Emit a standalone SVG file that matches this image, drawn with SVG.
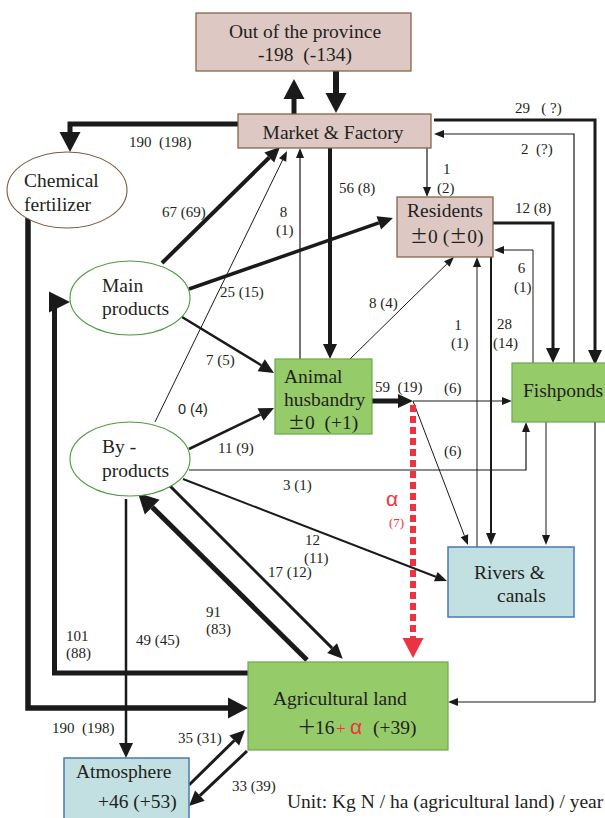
<svg xmlns="http://www.w3.org/2000/svg" width="605" height="818" viewBox="0 0 605 818">
<style>
.t{font-family:"Liberation Serif","Times New Roman",serif;font-size:19.5px;fill:#231f20}
.l{font-family:"Liberation Serif","Times New Roman",serif;font-size:15px;fill:#231f20}
.ls{font-family:"Liberation Sans",Arial,sans-serif;font-size:14.5px;fill:#231f20}
.pm{font-family:"Noto Sans CJK JP","Liberation Serif",sans-serif}
.pink{fill:#ddc8c4;stroke:#7d5a3e;stroke-width:1.2}
.green{fill:#96cb69;stroke:#6aa84f;stroke-width:1.2}
.blue{fill:#c2dfe1;stroke:#4a7ab0;stroke-width:1.5}
.ell{fill:#fff;stroke:#4c9a3c;stroke-width:1.1}
.c{fill:none;stroke:#1a1a1a;stroke-linejoin:miter}
.red{fill:#ee3340}
</style>
<defs>
<marker id="big" markerUnits="userSpaceOnUse" markerWidth="20" markerHeight="21" refX="0" refY="10.5" orient="auto" overflow="visible"><path d="M0,0 L20,10.5 L0,21 z" fill="#1a1a1a"/></marker>
<marker id="med" markerUnits="userSpaceOnUse" markerWidth="15" markerHeight="14" refX="0" refY="7" orient="auto" overflow="visible"><path d="M0,0 L15,7 L0,14 z" fill="#1a1a1a"/></marker>
<marker id="mid" markerUnits="userSpaceOnUse" markerWidth="12" markerHeight="10" refX="0" refY="5" orient="auto" overflow="visible"><path d="M0,0 L12,5 L0,10 z" fill="#1a1a1a"/></marker>
<marker id="sm" markerUnits="userSpaceOnUse" markerWidth="10" markerHeight="8" refX="0" refY="4" orient="auto" overflow="visible"><path d="M0,0 L10,4 L0,8 z" fill="#1a1a1a"/></marker>
</defs>

<g id="connectors">
<path class="c" d="M294,114 V99" stroke-width="5" marker-end="url(#big)"/>
<path class="c" d="M336,71 V93" stroke-width="6" marker-end="url(#big)"/>
<path class="c" d="M238,124 H70 V132" stroke-width="5" marker-end="url(#big)"/>
<path class="c" d="M28,218 V708 H228" stroke-width="5.5" marker-end="url(#big)"/>
<path class="c" d="M248,673 H54.5 V302" stroke-width="5"/>
<polygon points="49,291.5 70,302 49,312.5" fill="#1a1a1a"/>
<path class="c" d="M307,660 L152.2,507.1" stroke-width="5" marker-end="url(#big)"/>
<path class="c" d="M169,485 L332.1,648.1" stroke-width="3" marker-end="url(#med)"/>
<path class="c" d="M162,263 L269.3,157.5" stroke-width="4" marker-end="url(#med)"/>
<path class="c" d="M155,422 L282.6,160" stroke-width="1" marker-end="url(#sm)"/>
<path class="c" d="M300,359 V158" stroke="#8a8a8a" stroke-width="1.2" marker-end="url(#sm)"/>
<path class="c" d="M330,148 V344" stroke-width="4" marker-end="url(#med)"/>
<path class="c" d="M427,148 V187" stroke-width="1.2" marker-end="url(#sm)"/>
<path class="c" d="M189,289 L378.8,222.9" stroke-width="3.5" marker-end="url(#med)"/>
<path class="c" d="M434,120 H595 V350" stroke-width="3" marker-end="url(#med)"/>
<path class="c" d="M574,363 V134 H444" stroke="#444" stroke-width="1.2" marker-end="url(#sm)"/>
<path class="c" d="M493,223 H553 V348" stroke-width="3" marker-end="url(#med)"/>
<path class="c" d="M533,363 V250 H504" stroke-width="1" marker-end="url(#sm)"/>
<path class="c" d="M477,547 V267" stroke-width="1" marker-end="url(#sm)"/>
<path class="c" d="M491,257 V533" stroke-width="2" marker-end="url(#mid)"/>
<path class="c" d="M350,359 L446.8,264" stroke-width="1" marker-end="url(#sm)"/>
<path class="c" d="M182,317 L261.2,365.2" stroke-width="2.5" marker-end="url(#med)"/>
<path class="c" d="M189,449 L260.5,414.5" stroke-width="2.5" marker-end="url(#med)"/>
<path class="c" d="M372,401 H398" stroke-width="5" marker-end="url(#med)"/>
<path class="c" d="M413,401 H502" stroke="#444" stroke-width="1" marker-end="url(#sm)"/>
<path class="c" d="M413,401 L464.4,535.7" stroke-width="1" marker-end="url(#sm)"/>
<path d="M413,405 V638" fill="none" stroke="#ee3340" stroke-width="6" stroke-dasharray="7 4"/>
<polygon points="402.5,638 423.5,638 413,658" class="red"/>
<path class="c" d="M189,470 H526 V432" stroke="#666" stroke-width="1.2" marker-end="url(#sm)"/>
<path class="c" d="M183,479 L435.8,576.7" stroke-width="2" marker-end="url(#mid)"/>
<path class="c" d="M126,499 V743" stroke-width="2.5" marker-end="url(#med)"/>
<path class="c" d="M546,422 V535" stroke-width="1" marker-end="url(#sm)"/>
<path class="c" d="M595,422 V702 H458" stroke="#444" stroke-width="1.2" marker-end="url(#sm)"/>
<path class="c" d="M189,785 L234.3,740.5" stroke-width="3" marker-end="url(#med)"/>
<path class="c" d="M247,751 L199.9,795.7" stroke-width="3" marker-end="url(#med)"/>
</g>

<g id="out-of-province">
<rect x="196" y="13" width="215" height="58" class="pink"/>
<text class="t" x="305" y="38" text-anchor="middle">Out of the province</text>
<text class="t" x="305" y="61" text-anchor="middle">-198&#160; (-134)</text>
</g>
<g id="market-factory">
<rect x="238" y="114" width="193" height="34" class="pink"/>
<text class="t" x="333" y="139" text-anchor="middle">Market &amp; Factory</text>
</g>
<g id="chemical-fertilizer">
<ellipse cx="67" cy="190" rx="60" ry="38" fill="#fff" stroke="#7d5a3e" stroke-width="1.1"/>
<text class="t" x="24" y="187">Chemical</text>
<text class="t" x="24" y="211">fertilizer</text>
</g>
<g id="main-products">
<ellipse cx="130" cy="298" rx="60" ry="37" class="ell"/>
<text class="t" x="102" y="292">Main</text>
<text class="t" x="102" y="315">products</text>
</g>
<g id="by-products">
<ellipse cx="130" cy="459" rx="60" ry="37" class="ell"/>
<text class="t" x="102" y="453">By -</text>
<text class="t" x="102" y="477">products</text>
</g>
<g id="residents">
<rect x="397" y="197" width="96" height="60" class="pink"/>
<text class="t" x="445" y="217" text-anchor="middle">Residents</text>
<text class="t" x="410" y="243"><tspan class="pm" font-size="18">±</tspan>0 (<tspan class="pm" font-size="18">±</tspan>0)</text>
</g>
<g id="animal-husbandry">
<rect x="275" y="359" width="97" height="75" class="green"/>
<text class="t" x="284" y="383">Animal</text>
<text class="t" x="284" y="406">husbandry</text>
<text class="t" x="288" y="429"><tspan class="pm" font-size="17">±</tspan>0&#160; (+1)</text>
</g>
<g id="fishponds">
<rect x="512" y="363" width="96" height="59" class="green"/>
<text class="t" x="523" y="397">Fishponds</text>
</g>
<g id="rivers-canals">
<rect x="448" y="547" width="126" height="70" class="blue"/>
<text class="t" x="474" y="579">Rivers &amp;</text>
<text class="t" x="497" y="602">canals</text>
</g>
<g id="agricultural-land">
<rect x="248" y="662" width="200" height="88" class="green"/>
<text class="t" x="273" y="705">Agricultural land</text>
<text class="t" y="734"><tspan x="297" class="pm">＋</tspan><tspan x="315">16</tspan><tspan x="336" fill="#ee3340" font-size="17">+</tspan><tspan x="350" fill="#ee3340" font-family="Liberation Sans, sans-serif" font-size="21">α</tspan><tspan x="373">(+39)</tspan></text>
</g>
<g id="atmosphere">
<rect x="64" y="758" width="125" height="70" class="blue"/>
<text class="t" x="76" y="778">Atmosphere</text>
<text class="t" x="98" y="808">+46 (+53)</text>
</g>

<g id="labels">
<text class="l" x="129" y="147">190&#160; (198)</text>
<text class="l" x="162" y="217">67 (69)</text>
<text class="l" x="283.5" y="217" text-anchor="middle">8</text>
<text class="l" x="276" y="235">(1)</text>
<text class="l" x="339" y="193">56 (8)</text>
<text class="l" x="443" y="174">1</text>
<text class="l" x="437" y="193">(2)</text>
<text class="l" x="515" y="113">29&#160;&#160; ( ?)</text>
<text class="l" x="521" y="154">2&#160; (?)</text>
<text class="l" x="515" y="213">12 (8)</text>
<text class="l" x="521.5" y="273" text-anchor="middle">6</text>
<text class="l" x="514" y="292">(1)</text>
<text class="l" x="458" y="330" text-anchor="middle">1</text>
<text class="l" x="451" y="348">(1)</text>
<text class="l" x="497" y="329">28</text>
<text class="l" x="493" y="348">(14)</text>
<text class="l" x="369" y="308">8 (4)</text>
<text class="l" x="220" y="297">25 (15)</text>
<text class="l" x="206" y="365">7 (5)</text>
<text class="ls" x="178" y="414">0 (4)</text>
<text class="l" x="218" y="453">11 (9)</text>
<text class="l" x="375" y="392">59&#160; (19)</text>
<text class="l" x="444" y="393">(6)</text>
<text class="l" x="444" y="456">(6)</text>
<text class="l" x="283" y="490">3 (1)</text>
<text x="386" y="506" fill="#ee3340" font-family="Liberation Sans, sans-serif" font-size="21">α</text>
<text x="389" y="527" fill="#ee3340" font-family="Liberation Serif, serif" font-size="13">(7)</text>
<text class="l" x="305" y="545">12</text>
<text class="l" x="304" y="563">(11)</text>
<text class="l" x="268" y="577">17 (12)</text>
<text class="l" x="206" y="617">91</text>
<text class="l" x="206" y="634">(83)</text>
<text class="l" x="66" y="641">101</text>
<text class="l" x="66" y="658">(88)</text>
<text class="l" x="136" y="645">49 (45)</text>
<text class="l" x="52" y="733">190&#160; (198)</text>
<text class="l" x="178" y="743">35 (31)</text>
<text class="l" x="232" y="791">33 (39)</text>
<text class="t" x="287" y="808">Unit: Kg N / ha (agricultural land) / year</text>
</g>
</svg>
